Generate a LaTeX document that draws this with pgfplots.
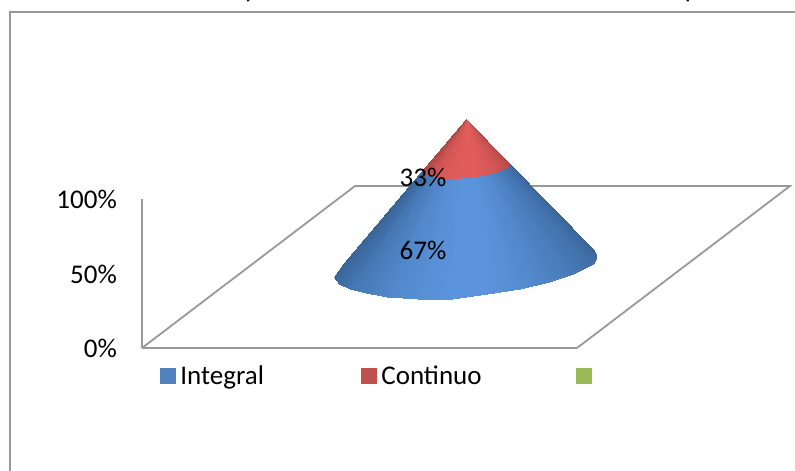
\documentclass[border=0pt]{standalone}
\usepackage{fontspec}
\setmainfont{Carlito}
\usepackage{pgfplots}
\usepackage{pgfplotstable}
\pgfplotsset{compat=1.18}
\definecolor{linegray}{HTML}{999999}
\definecolor{legblue}{HTML}{4F81BD}
\definecolor{legred}{HTML}{C0504D}
\definecolor{leggreen}{HTML}{9BBB59}
\newcommand{\chartfont}{\fontsize{27}{31}\selectfont}
\pgfplotsset{
  colormap={coneblue}{rgb255=(56,98,148) rgb255=(72,124,186) rgb255=(91,148,220)},
  colormap={conered}{rgb255=(170,70,70) rgb255=(205,84,84) rgb255=(226,92,92)},
}
% cone cut at the 33% share: apex, cut line, base (picture pixels)
\pgfplotstableread{
x y c
507.7 161.7 0.00
509.2 164.2 0.10
507.9 166.7 0.25
501.3 170.1 0.45
493.5 172.7 0.65
483.8 175.1 0.85
472.9 176.9 1.00
461.4 178.2 1.00
450.2 178.4 0.90
439.9 177.7 0.75
433.0 176.4 0.55
427.7 175.1 0.40
424.1 173.5 0.20
422.4 171.1 0.08
425.4 166.9 0.00
592.5 248.5 0.00
596.8 256.0 0.10
593.0 263.5 0.25
572.9 273.8 0.45
549.3 281.8 0.65
520.0 288.9 0.85
486.9 294.4 1.00
452.0 298.5 1.00
418.0 299.0 0.90
387.0 297.0 0.75
366.0 293.0 0.55
350.0 289.0 0.40
339.0 284.0 0.20
334.0 277.0 0.08
343.0 264.0 0.00
}\integraltable
\pgfplotstableread{
x y c
466.0 119.0 0.00
466.0 119.0 0.10
466.0 119.0 0.25
466.0 119.0 0.45
466.0 119.0 0.65
466.0 119.0 0.85
466.0 119.0 1.00
466.0 119.0 1.00
466.0 119.0 0.90
466.0 119.0 0.75
466.0 119.0 0.55
466.0 119.0 0.40
466.0 119.0 0.20
466.0 119.0 0.08
466.0 119.0 0.00
507.7 161.7 0.00
509.2 164.2 0.10
507.9 166.7 0.25
501.3 170.1 0.45
493.5 172.7 0.65
483.8 175.1 0.85
472.9 176.9 1.00
461.4 178.2 1.00
450.2 178.4 0.90
439.9 177.7 0.75
433.0 176.4 0.55
427.7 175.1 0.40
424.1 173.5 0.20
422.4 171.1 0.08
425.4 166.9 0.00
}\continuotable
\begin{document}
\begin{tikzpicture}[x=1pt,y=1pt]
  \useasboundingbox (0,0) rectangle (795,471);
  \clip (0,0) rectangle (795,471);
  % value axis on the back wall
  \begin{axis}[
    at={(142pt,123pt)}, anchor=origin,
    scale only axis, width=435pt, height=149pt,
    xmin=0, xmax=1, ymin=0, ymax=100,
    axis x line=bottom, axis y line=left,
    axis line style={-, linegray, line width=1.8pt},
    xtick=\empty,
    ytick={0,50,100}, yticklabels={0\%,50\%,100\%},
    major tick length=0pt,
    yticklabel style={font=\chartfont, inner sep=0pt, xshift=-25pt, yshift=-0.7pt},
  ]
  \end{axis}
  % picture-pixel axis: floor, cone, legend
  \begin{axis}[
    at={(0pt,0pt)}, anchor=south west,
    scale only axis, width=795pt, height=471pt,
    xmin=0, xmax=795, ymin=0, ymax=471, y dir=reverse,
    hide axis,
    point meta min=0, point meta max=1,
    legend columns=3,
    legend cell align=left,
    legend style={at={(axis cs:160,375.5)}, anchor=west, draw=none, fill=none,
      font=\chartfont, inner sep=0pt, outer sep=0pt,
      /tikz/column 2/.style={column sep=95pt},
      /tikz/column 4/.style={column sep=92pt}},
    legend image code/.code={\fill[#1] (0pt,-7.5pt) rectangle (15pt,7.5pt); \path (18pt,0pt);},
  ]
  \addplot[forget plot, linegray, line width=2pt] coordinates {(9.5,480) (9.5,11.5) (800,11.5)};
  \addplot[forget plot, linegray, line width=1.8pt] coordinates {(142,348) (355,186) (790,186) (577,348)};
  \addplot[forget plot, surf, shader=interp, mesh/rows=2, point meta=explicit, colormap name=coneblue]
    table[x=x, y=y, meta=c] {\integraltable};
  \addplot[forget plot, surf, shader=interp, mesh/rows=2, point meta=explicit, colormap name=conered]
    table[x=x, y=y, meta=c] {\continuotable};
  \addlegendimage{legblue}
  \addlegendentry{Integral}
  \addlegendimage{legred}
  \addlegendentry{Continuo}
  \addlegendimage{leggreen}
  \addlegendentry{}
  \node[font=\chartfont] at (axis cs:423,177) {33\%};
  \node[font=\chartfont] at (axis cs:423,250.5) {67\%};
  % clipped title, only the descenders show
  \node[font=\chartfont, anchor=base] at (axis cs:250,-2) {y};
  \node[font=\chartfont, anchor=base] at (axis cs:692,-2) {p};
  \end{axis}
\end{tikzpicture}
\end{document}
